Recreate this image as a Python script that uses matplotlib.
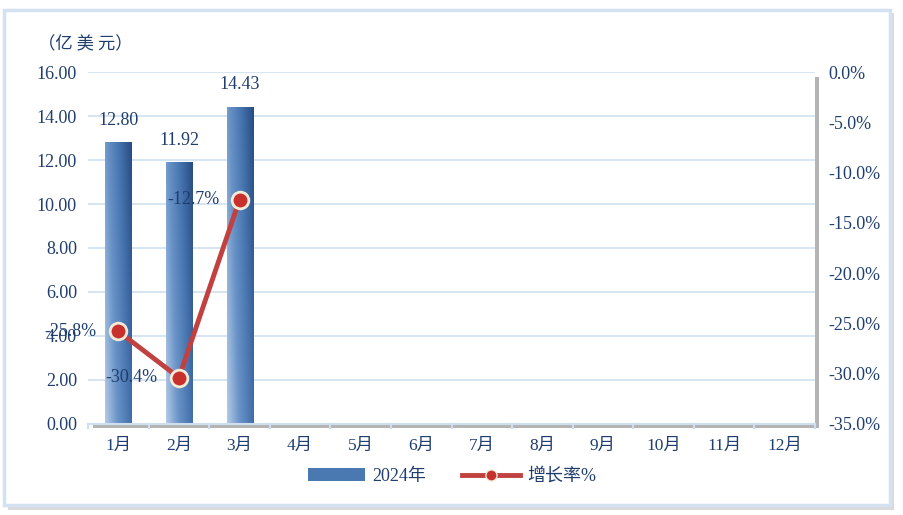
import matplotlib.pyplot as plt
import numpy as np
from matplotlib.patches import Rectangle
from matplotlib.lines import Line2D
from matplotlib.colors import LinearSegmentedColormap

months = ['1月', '2月', '3月', '4月', '5月', '6月', '7月', '8月', '9月', '10月', '11月', '12月']
values_2024 = [12.80, 11.92, 14.43]
growth = [-25.8, -30.4, -12.7]

plt.rcParams['font.family'] = ['Liberation Serif', 'Noto Sans CJK SC']
navy = '#1f3d6e'

fig = plt.figure(figsize=(9.04, 5.15), dpi=100)
fig.patch.set_facecolor('white')

# outer frame with soft shadow
fig.patches.append(Rectangle((0.009, 0.010), 0.98, 0.965, transform=fig.transFigure,
                             facecolor='#dadada', edgecolor='none', zorder=0))
fig.patches.append(Rectangle((0.004, 0.019), 0.98, 0.962, transform=fig.transFigure,
                             facecolor='white', edgecolor='#d3e1f1', lw=2.5, zorder=0))

ax = fig.add_axes([0.0975, 0.177, 0.804, 0.683])
# plot-area shadow
fig.patches.append(Rectangle((0.1025, 0.168), 0.804, 0.683, transform=fig.transFigure,
                             facecolor='#b4b4b4', edgecolor='none', zorder=0.5))
ax.set_facecolor('white')
ax.set_zorder(1)

x = np.arange(len(months))
ax.set_xlim(-0.5, 11.5)
ax.set_ylim(0, 16)
ax.set_yticks(np.arange(0, 16.01, 2))
ax.set_yticklabels([f'{v:.2f}' for v in np.arange(0, 16.01, 2)], fontsize=13, color=navy)
ax.set_xticks(x)
ax.set_xticklabels(months, fontsize=12.5, color=navy)
ax.tick_params(axis='both', length=0, pad=8)
ax.tick_params(axis='x', pad=10)
ax.grid(axis='y', color='#cfdff0', lw=1.2)
ax.set_axisbelow(True)
for s in ['top', 'right', 'left']:
    ax.spines[s].set_visible(False)
ax.spines['bottom'].set_color('#cfdff0')
ax.spines['bottom'].set_linewidth(1.5)
for xi in np.arange(-0.5, 12, 1):
    ax.plot([xi, xi], [0, -0.18], color='#cfdff0', lw=1.5, clip_on=False)

# gradient bars: light top-left to dark bottom-right
gx = np.linspace(0, 1, 64)
gy = np.linspace(0, 1, 128)[:, None]
grad = 0.75 * gx[None, :] + 0.3 * gy
cmap = LinearSegmentedColormap.from_list('bar', ['#b4cae6', '#6a94c8', '#4673ae', '#274c82'])
bw = 0.43
bars = ax.bar(x[:len(values_2024)], values_2024, width=bw, color='none', zorder=2)
for b, v in zip(bars, values_2024):
    x0 = b.get_x()
    im = ax.imshow(grad, cmap=cmap, vmin=0, vmax=1.05, extent=[x0, x0 + bw, v, 0],
                   aspect='auto', zorder=2, interpolation='bilinear')
    im.set_clip_path(b)
    ax.text(x0 + bw / 2, v + 0.6, f'{v:.2f}', ha='center', va='bottom', fontsize=13, color=navy)
ax.set_xlim(-0.5, 11.5)
ax.set_ylim(0, 16)

ax2 = ax.twinx()
ax2.set_ylim(-35, 0)
ax2.set_yticks(np.arange(-35, 0.1, 5))
ax2.set_yticklabels([f'{v:.1f}%' for v in np.arange(-35, 0.1, 5)], fontsize=13, color=navy)
ax2.tick_params(axis='y', length=0, pad=10)
for s in ax2.spines.values():
    s.set_visible(False)
ax2.plot(x[:len(growth)], growth, color='#c0413f', lw=3.5, marker='o', ms=12,
         markerfacecolor='#c8302e', markeredgecolor='#f3ead8', markeredgewidth=2, zorder=3)
offs = [(-0.8, 0), (-0.78, 0), (-0.76, 0)]
for xi, g, (dx, dy) in zip(x, growth, offs):
    ax2.text(xi + dx, g + dy, f'{g:.1f}%', ha='center', va='center', fontsize=13, color=navy)

fig.text(0.042, 0.913, '（亿 美 元）', fontsize=12.5, color=navy, va='center',
         family=['Noto Sans CJK SC'])

# legend
h1 = Rectangle((0, 0), 1, 1, facecolor='#4a78b0')
h2 = Line2D([], [], color='#c0413f', lw=3.5, marker='o', ms=8,
            markerfacecolor='#c8302e', markeredgecolor='#f3ead8')
fig.legend([h1, h2], ['2024年', '增长率%'], loc='center', bbox_to_anchor=(0.5, 0.075),
           ncol=2, frameon=False, fontsize=13, labelcolor=navy, handlelength=3.2,
           handletextpad=0.4, columnspacing=2.0)

fig.savefig('out.png', dpi=100)
